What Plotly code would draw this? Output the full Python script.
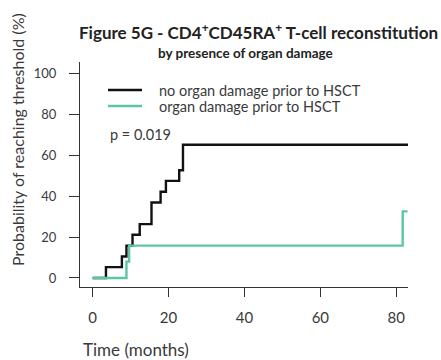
import plotly.graph_objects as go

# Kaplan-Meier style step data (time in months, probability in %)
no_damage_time = [0, 3.5, 7.7, 8.9, 10.5, 12.4, 15.5, 17.9, 19.3, 22.8, 23.8, 83.3]
no_damage_prob = [0, 5.3, 10.5, 15.8, 21.1, 26.3, 36.8, 42.1, 47.4, 52.6, 65.0, 65.0]

damage_time = [0, 8.9, 9.6, 81.7, 83.0]
damage_prob = [0, 8.0, 15.8, 32.5, 32.5]

x_ticks = [0, 20, 40, 60, 80]
y_ticks = [0, 20, 40, 60, 80, 100]

series_names = ["no organ damage prior to HSCT", "organ damage prior to HSCT"]
p_label = "p = 0.019"

BLACK = "#111111"
GREEN = "#5cc6a2"
AXIS = "#333333"
TXT = "#3a3a3a"
FONT = "Lato"

fig = go.Figure()
fig.add_trace(go.Scatter(x=no_damage_time, y=no_damage_prob, mode="lines",
                         line=dict(color=BLACK, width=2.4, shape="hv"),
                         name=series_names[0], showlegend=False))
fig.add_trace(go.Scatter(x=damage_time, y=damage_prob, mode="lines",
                         line=dict(color=GREEN, width=2.4, shape="hv"),
                         name=series_names[1], showlegend=False))

# manual legend
leg_y = [90, 106]
for yy, col, name in zip(leg_y, [BLACK, GREEN], series_names):
    fig.add_shape(type="line", xref="paper", yref="paper",
                  x0=(108 - 80) / 328, x1=(142 - 80) / 328,
                  y0=(287 - yy) / 225, y1=(287 - yy) / 225,
                  line=dict(color=col, width=2.4))
    fig.add_annotation(xref="paper", yref="paper", x=(157 - 80) / 328,
                       y=(287 - yy) / 225, text=name, showarrow=False,
                       xanchor="left", yanchor="middle",
                       font=dict(family=FONT, size=14.5, color=TXT))

fig.add_annotation(xref="paper", yref="paper", x=(108 - 80) / 328,
                   y=(287 - 134) / 225, text=p_label, showarrow=False,
                   xanchor="left", yanchor="middle",
                   font=dict(family=FONT, size=14.5, color=TXT))

# titles
fig.add_annotation(xref="paper", yref="paper", x=(258 - 80) / 328, y=(287 - 31) / 225,
                   text="<b>Figure 5G - CD4<sup>+</sup>CD45RA<sup>+</sup> T-cell reconstitution</b>",
                   showarrow=False, xanchor="center", yanchor="middle",
                   font=dict(family=FONT, size=17, color="#222222"))
fig.add_annotation(xref="paper", yref="paper", x=(245 - 80) / 328, y=(287 - 53) / 225,
                   text="<b>by presence of organ damage</b>",
                   showarrow=False, xanchor="center", yanchor="middle",
                   font=dict(family=FONT, size=13.5, color="#222222"))
fig.add_annotation(xref="paper", yref="paper", x=(81 - 80) / 328, y=(287 - 349) / 225,
                   text="Time (months)", showarrow=False, xanchor="left", yanchor="middle",
                   font=dict(family=FONT, size=17, color=TXT))
fig.add_annotation(xref="paper", yref="paper", x=(17 - 80) / 328, y=(287 - 140) / 225,
                   text="Probability of reaching threshold (%)", showarrow=False,
                   textangle=-90, xanchor="center", yanchor="middle",
                   font=dict(family=FONT, size=16, color=TXT))

fig.update_layout(
    width=441, height=360,
    margin=dict(l=80, r=33, t=62, b=73),
    plot_bgcolor="white", paper_bgcolor="white",
    xaxis=dict(range=[-3.34, 83.1], tickvals=x_ticks, showline=True, linecolor=AXIS,
               linewidth=1.3, ticks="outside", ticklen=9, tickcolor=AXIS, tickwidth=1.3,
               showgrid=False, zeroline=False, ticklabelstandoff=8,
               tickfont=dict(family=FONT, size=15, color=TXT)),
    yaxis=dict(range=[-4.4, 105.4], tickvals=y_ticks, showline=True, linecolor=AXIS,
               linewidth=1.3, ticks="outside", ticklen=10, tickcolor=AXIS, tickwidth=1.3,
               showgrid=False, zeroline=False, ticklabelstandoff=10,
               tickfont=dict(family=FONT, size=13, color=TXT)),
)

fig.write_html("out.html")
